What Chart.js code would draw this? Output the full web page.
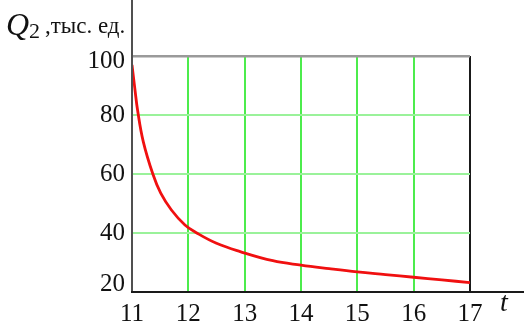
<!DOCTYPE html>
<html>
<head>
<meta charset="utf-8">
<script src="https://cdn.jsdelivr.net/npm/chart.js@4"></script>
<style>
  body { margin: 0; background: #fff; }
</style>
</head>
<body>
<canvas id="grafico" width="524" height="332"></canvas>
<script>
// t и Q2 (тыс. ед.)
const tValues = [11, 11.05, 11.1, 11.2, 11.37, 11.51, 11.7, 11.94, 12.15, 12.5, 12.92, 13.5, 14, 14.5, 15, 15.5, 16, 16.5, 17];
const qValues = [97, 89, 81.5, 71, 60, 53.5, 47.8, 42.7, 40, 36.5, 33.7, 30.6, 29.1, 27.9, 26.8, 25.9, 25, 24.1, 23.2];
const xTicks = [11, 12, 13, 14, 15, 16, 17];
const yTicks = [20, 40, 60, 80, 100];

const fonte = "'Liberation Serif', 'Times New Roman', serif";

// оси, выходящие за пределы области графика + подписи Q2 и t
const eixos = {
  id: "eixos",
  afterDraw(chart) {
    const { ctx, chartArea } = chart;
    ctx.save();
    ctx.lineWidth = 2;
    ctx.strokeStyle = "#505050";
    ctx.beginPath();
    ctx.moveTo(chartArea.left, 0);
    ctx.lineTo(chartArea.left, chartArea.bottom + 1);
    ctx.stroke();
    ctx.strokeStyle = "#1a1a1a";
    ctx.beginPath();
    ctx.moveTo(chartArea.left - 1, chartArea.bottom);
    ctx.lineTo(chart.width, chartArea.bottom);
    ctx.stroke();

    ctx.fillStyle = "#111";
    ctx.textBaseline = "alphabetic";
    ctx.font = "italic 32px " + fonte;
    ctx.fillText("Q", 6, 35);
    ctx.font = "22px " + fonte;
    ctx.fillText("2", 29, 38);
    ctx.font = "23px " + fonte;
    ctx.fillText(",тыс. ед.", 45, 33);
    ctx.font = "italic 28px " + fonte;
    ctx.fillText("t", 500, 311);
    ctx.restore();
  },
};

new Chart(document.getElementById("grafico"), {
  type: "line",
  data: {
    datasets: [
      {
        data: tValues.map((t, i) => ({ x: t, y: qValues[i] })),
        borderColor: "#f01010",
        borderWidth: 2.8,
        pointRadius: 0,
        tension: 0.4,
        fill: false,
      },
    ],
  },
  options: {
    responsive: false,
    animation: false,
    layout: { padding: { top: 56, right: 54, left: 0, bottom: 0 } },
    plugins: {
      legend: { display: false },
      tooltip: { enabled: false },
    },
    scales: {
      x: {
        type: "linear",
        min: 11,
        max: 17,
        afterFit: (s) => { s.height = 40; },
        afterBuildTicks: (s) => { s.ticks = xTicks.map((v) => ({ value: v })); },
        border: { display: false },
        grid: {
          drawTicks: false,
          lineWidth: 2,
          color: (c) => (c.tick && c.tick.value === 17 ? "#1a1a1a" : "#4cec4c"),
        },
        ticks: {
          padding: 7,
          color: "#111",
          font: { family: fonte, size: 25 },
        },
      },
      y: {
        min: 20,
        max: 100,
        afterFit: (s) => { s.width = 132; },
        afterBuildTicks: (s) => { s.ticks = yTicks.map((v) => ({ value: v })); },
        border: { display: false },
        grid: {
          drawTicks: false,
          lineWidth: (c) => (c.tick && c.tick.value === 100 ? 2.5 : 2),
          color: (c) => (c.tick && c.tick.value === 100 ? "#9a9a9a" : "#9af29a"),
        },
        ticks: {
          padding: 7,
          color: "#111",
          // крайние подписи сдвинуты внутрь, как на исходном рисунке
          callback: (v) => (v === 20 ? [String(v), ""] : v === 100 ? ["", String(v)] : String(v)),
          font: (c) => {
            const v = c.tick ? c.tick.value : 0;
            return {
              family: fonte,
              size: 25,
              lineHeight: v === 20 ? 16 / 25 : v === 100 ? 10 / 25 : 1.2,
            };
          },
        },
      },
    },
  },
  plugins: [eixos],
});
</script>
</body>
</html>
